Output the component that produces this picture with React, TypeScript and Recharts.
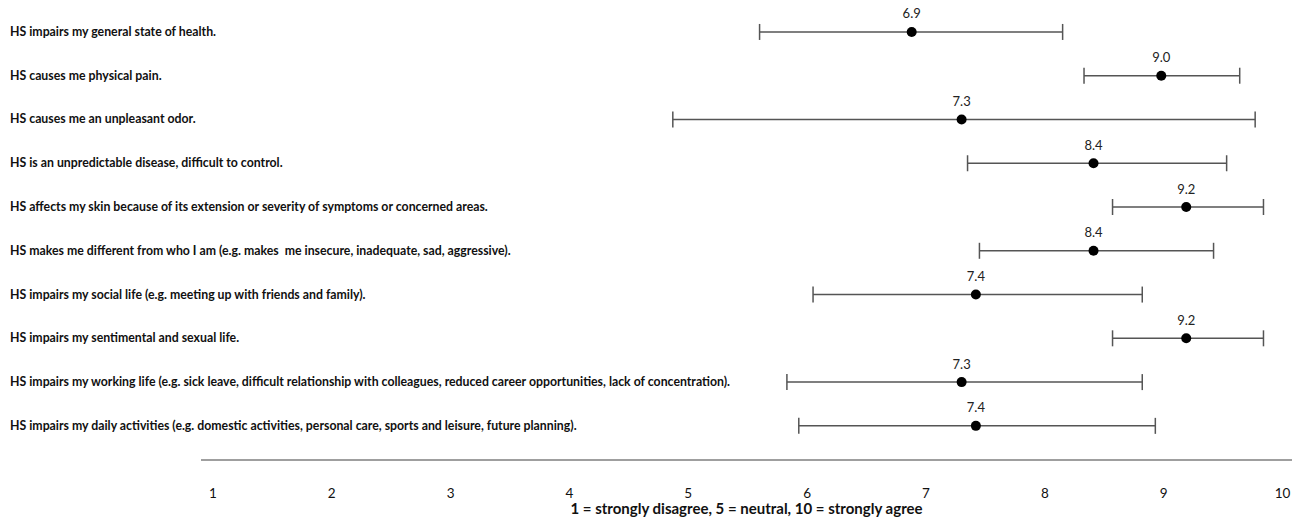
import { ScatterChart, Scatter, XAxis, YAxis, ErrorBar, LabelList } from 'recharts'

// statements, top to bottom
const statements = [
  'HS impairs my general state of health.',
  'HS causes me physical pain.',
  'HS causes me an unpleasant odor.',
  'HS is an unpredictable disease, difficult to control.',
  'HS affects my skin because of its extension or severity of symptoms or concerned areas.',
  'HS makes me different from who I am (e.g. makes  me insecure, inadequate, sad, aggressive).',
  'HS impairs my social life (e.g. meeting up with friends and family).',
  'HS impairs my sentimental and sexual life.',
  'HS impairs my working life (e.g. sick leave, difficult relationship with colleagues, reduced career opportunities, lack of concentration).',
  'HS impairs my daily activities (e.g. domestic activities, personal care, sports and leisure, future planning).',
]

const means = [6.88, 8.98, 7.3, 8.41, 9.19, 8.41, 7.42, 9.19, 7.3, 7.42]
const lows = [5.6, 8.33, 4.87, 7.35, 8.57, 7.45, 6.05, 8.57, 5.83, 5.93]
const highs = [8.15, 9.64, 9.77, 9.53, 9.84, 9.42, 8.82, 9.84, 8.82, 8.93]

const xTicks = [1, 2, 3, 4, 5, 6, 7, 8, 9, 10]

const FONT = 'Lato, "Open Sans", sans-serif'

const data = means.map((m, i) => ({
  row: i + 1,
  mean: m,
  err: [m - lows[i], highs[i] - m],
}))

const RowTick = (props: any) => {
  const { y, payload } = props
  return (
    <text
      x={10}
      y={y}
      dy={4}
      textAnchor="start"
      fontFamily={FONT}
      fontWeight={700}
      fontSize={12.3}
      fill="#111"
      style={{ whiteSpace: 'pre' }}
    >
      {statements[payload.value - 1]}
    </text>
  )
}

export default function App() {
  return (
    <div style={{ position: 'absolute', left: 0, top: 0, background: '#fff' }}>
      <ScatterChart width={1309} height={518} margin={{ top: 0, right: 17, bottom: 0, left: 0 }}>
        <XAxis
          type="number"
          dataKey="mean"
          domain={[0.9, 10.08]}
          ticks={xTicks}
          allowDataOverflow
          axisLine={{ stroke: '#7f7f7f', strokeWidth: 1.5 }}
          tickLine={false}
          tickMargin={22}
          height={58}
          tick={{ fontFamily: FONT, fontSize: 13.5, fill: '#111' }}
          label={{
            value: '1 = strongly disagree, 5 = neutral, 10 = strongly agree',
            position: 'insideBottom',
            offset: 4,
            fontFamily: FONT,
            fontWeight: 700,
            fontSize: 15,
            fill: '#111',
          }}
        />
        <YAxis
          type="number"
          dataKey="row"
          domain={[0.27, 10.78]}
          reversed
          ticks={xTicks}
          width={201}
          axisLine={false}
          tickLine={false}
          tick={<RowTick />}
        />
        <Scatter
          data={data}
          isAnimationActive={false}
          shape={(p: any) => <circle cx={p.cx} cy={p.cy} r={5} fill="#000" />}
        >
          <ErrorBar
            dataKey="err"
            direction="x"
            width={8}
            stroke="#555"
            strokeWidth={1.5}
            isAnimationActive={false}
          />
          <LabelList
            dataKey="mean"
            position="top"
            offset={9}
            formatter={(v: any) => Number(v).toFixed(1)}
            fontFamily={FONT}
            fontSize={13}
            fill="#222"
          />
        </Scatter>
      </ScatterChart>
    </div>
  )
}
